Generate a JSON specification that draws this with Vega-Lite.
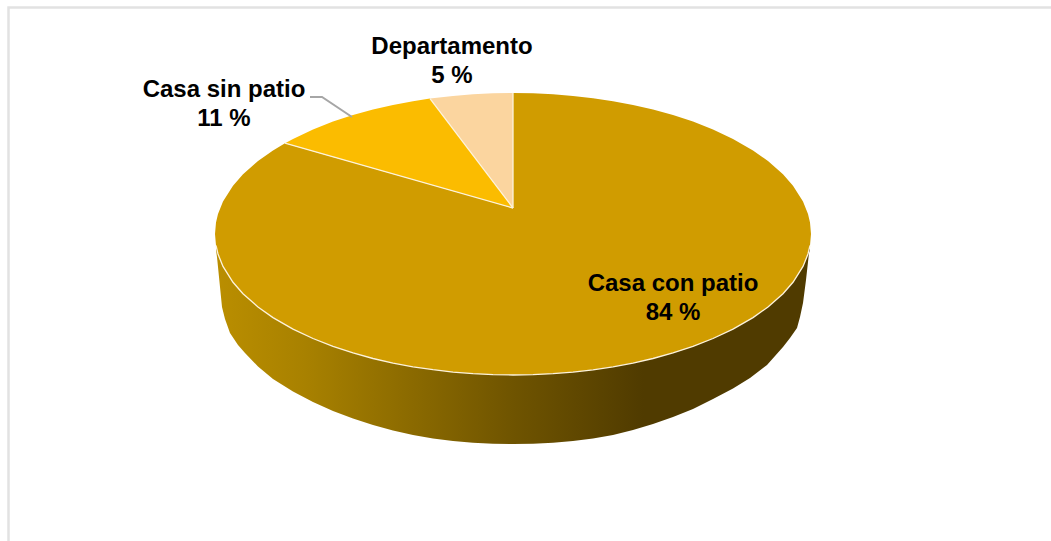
{
"$schema":"https://vega.github.io/schema/vega-lite/v6.json",
"width":1051,"height":541,"padding":0,
"autosize":{"type":"none"},
"background":"white",
"config":{"view":{"stroke":null}},
"datasets":{
"frame":[{"i":1,"x":8.5,"y":541},{"i":2,"x":8.5,"y":7.5},{"i":3,"x":1051,"y":7.5}],
"wall":[
{"x":216,"y":250,"y2":234},{"x":217,"y":257,"y2":234},{"x":220,"y":287,"y2":234},{"x":222,"y":307,"y2":234},{"x":225,"y":319,"y2":234},{"x":230,"y":333,"y2":234},{"x":238,"y":345,"y2":234},{"x":245,"y":353,"y2":234},{"x":258,"y":366.5,"y2":234},{"x":273,"y":379,"y2":234},{"x":293,"y":391.5,"y2":234},{"x":313,"y":402,"y2":234},{"x":333,"y":411,"y2":234},{"x":353,"y":418.5,"y2":234},{"x":373,"y":425,"y2":234},{"x":393,"y":430.5,"y2":234},{"x":413,"y":435,"y2":234},{"x":433,"y":438.5,"y2":234},{"x":453,"y":441,"y2":234},{"x":473,"y":442.7,"y2":234},{"x":493,"y":443.7,"y2":234},{"x":513,"y":444,"y2":234},{"x":533,"y":443.7,"y2":234},{"x":553,"y":442.7,"y2":234},{"x":573,"y":441,"y2":234},{"x":593,"y":438.6,"y2":234},{"x":613,"y":435,"y2":234},{"x":633,"y":430,"y2":234},{"x":653,"y":424,"y2":234},{"x":673,"y":417,"y2":234},{"x":693,"y":409,"y2":234},{"x":713,"y":399,"y2":234},{"x":733,"y":388.5,"y2":234},{"x":750,"y":378,"y2":234},{"x":767,"y":365,"y2":234},{"x":783,"y":347,"y2":234},{"x":790,"y":338,"y2":234},{"x":797,"y":328,"y2":234},{"x":800,"y":317,"y2":234},{"x":803,"y":303,"y2":234},{"x":806,"y":280,"y2":234},{"x":809,"y":253,"y2":234},{"x":810,"y":250,"y2":234}
],
"slices":[
{"slice":"Casa con patio","x":215,"y":234,"y2":234},{"slice":"Casa con patio","x":216,"y":222.5,"y2":245.5},{"slice":"Casa con patio","x":218,"y":214,"y2":254},{"slice":"Casa con patio","x":223,"y":201.6,"y2":266.4},{"slice":"Casa con patio","x":233,"y":185.7,"y2":282.3},{"slice":"Casa con patio","x":243,"y":174.3,"y2":293.7},{"slice":"Casa con patio","x":258,"y":161,"y2":307},{"slice":"Casa con patio","x":273,"y":150.4,"y2":317.6},{"slice":"Casa con patio","x":285,"y":143.2,"y2":324.8},{"slice":"Casa con patio","x":293,"y":145.5,"y2":329.1},{"slice":"Casa con patio","x":313,"y":151.2,"y2":338.5},{"slice":"Casa con patio","x":333,"y":156.9,"y2":346.4},{"slice":"Casa con patio","x":353,"y":162.5,"y2":352.9},{"slice":"Casa con patio","x":373,"y":168.2,"y2":358.5},{"slice":"Casa con patio","x":393,"y":173.9,"y2":363.1},{"slice":"Casa con patio","x":413,"y":179.6,"y2":366.8},{"slice":"Casa con patio","x":433,"y":185.3,"y2":369.7},{"slice":"Casa con patio","x":453,"y":191,"y2":372.1},{"slice":"Casa con patio","x":473,"y":196.6,"y2":373.7},{"slice":"Casa con patio","x":493,"y":202.3,"y2":374.7},{"slice":"Casa con patio","x":513,"y":208,"y2":375},{"slice":"Casa con patio","x":513,"y":93,"y2":375},{"slice":"Casa con patio","x":533,"y":93.3,"y2":374.7},{"slice":"Casa con patio","x":553,"y":94.3,"y2":373.7},{"slice":"Casa con patio","x":573,"y":95.9,"y2":372.1},{"slice":"Casa con patio","x":593,"y":98.2,"y2":369.8},{"slice":"Casa con patio","x":613,"y":101.2,"y2":366.8},{"slice":"Casa con patio","x":633,"y":104.9,"y2":363.1},{"slice":"Casa con patio","x":653,"y":109.5,"y2":358.5},{"slice":"Casa con patio","x":673,"y":115.1,"y2":352.9},{"slice":"Casa con patio","x":693,"y":121.6,"y2":346.4},{"slice":"Casa con patio","x":713,"y":129.5,"y2":338.5},{"slice":"Casa con patio","x":733,"y":138.9,"y2":329.1},{"slice":"Casa con patio","x":753,"y":150.4,"y2":317.6},{"slice":"Casa con patio","x":768,"y":161,"y2":307},{"slice":"Casa con patio","x":783,"y":174.3,"y2":293.7},{"slice":"Casa con patio","x":793,"y":185.7,"y2":282.3},{"slice":"Casa con patio","x":803,"y":201.6,"y2":266.4},{"slice":"Casa con patio","x":808,"y":214,"y2":254},{"slice":"Casa con patio","x":810,"y":222.5,"y2":245.5},{"slice":"Casa con patio","x":811,"y":234,"y2":234},
{"slice":"Casa sin patio","x":285,"y":143.2,"y2":143.2},{"slice":"Casa sin patio","x":293,"y":138.9,"y2":145.5},{"slice":"Casa sin patio","x":313,"y":129.5,"y2":151.2},{"slice":"Casa sin patio","x":333,"y":121.6,"y2":156.9},{"slice":"Casa sin patio","x":353,"y":115.1,"y2":162.5},{"slice":"Casa sin patio","x":373,"y":109.5,"y2":168.2},{"slice":"Casa sin patio","x":393,"y":104.9,"y2":173.9},{"slice":"Casa sin patio","x":413,"y":101.2,"y2":179.6},{"slice":"Casa sin patio","x":430,"y":98.6,"y2":184.4},{"slice":"Casa sin patio","x":513,"y":208,"y2":208},
{"slice":"Departamento","x":430,"y":98.6,"y2":98.6},{"slice":"Departamento","x":453,"y":95.9,"y2":128.9},{"slice":"Departamento","x":473,"y":94.3,"y2":155.3},{"slice":"Departamento","x":493,"y":93.3,"y2":181.6},{"slice":"Departamento","x":513,"y":93,"y2":208}
],
"edges":[
{"edge":"rim","i":1,"x":216,"y":245.5},{"edge":"rim","i":2,"x":218,"y":254},{"edge":"rim","i":3,"x":223,"y":266.4},{"edge":"rim","i":4,"x":233,"y":282.3},{"edge":"rim","i":5,"x":243,"y":293.7},{"edge":"rim","i":6,"x":258,"y":307},{"edge":"rim","i":7,"x":273,"y":317.6},{"edge":"rim","i":8,"x":293,"y":329.1},{"edge":"rim","i":9,"x":313,"y":338.5},{"edge":"rim","i":10,"x":333,"y":346.4},{"edge":"rim","i":11,"x":353,"y":352.9},{"edge":"rim","i":12,"x":373,"y":358.5},{"edge":"rim","i":13,"x":393,"y":363.1},{"edge":"rim","i":14,"x":413,"y":366.8},{"edge":"rim","i":15,"x":433,"y":369.7},{"edge":"rim","i":16,"x":453,"y":372.1},{"edge":"rim","i":17,"x":473,"y":373.7},{"edge":"rim","i":18,"x":493,"y":374.7},{"edge":"rim","i":19,"x":513,"y":375},{"edge":"rim","i":20,"x":533,"y":374.7},{"edge":"rim","i":21,"x":553,"y":373.7},{"edge":"rim","i":22,"x":573,"y":372.1},{"edge":"rim","i":23,"x":593,"y":369.8},{"edge":"rim","i":24,"x":613,"y":366.8},{"edge":"rim","i":25,"x":633,"y":363.1},{"edge":"rim","i":26,"x":653,"y":358.5},{"edge":"rim","i":27,"x":673,"y":352.9},{"edge":"rim","i":28,"x":693,"y":346.4},{"edge":"rim","i":29,"x":713,"y":338.5},{"edge":"rim","i":30,"x":733,"y":329.1},{"edge":"rim","i":31,"x":753,"y":317.6},{"edge":"rim","i":32,"x":768,"y":307},{"edge":"rim","i":33,"x":783,"y":293.7},{"edge":"rim","i":34,"x":793,"y":282.3},{"edge":"rim","i":35,"x":803,"y":266.4},{"edge":"rim","i":36,"x":808,"y":254},{"edge":"rim","i":37,"x":810,"y":245.5},
{"edge":"a","i":1,"x":285,"y":143.2},{"edge":"a","i":2,"x":513,"y":208},
{"edge":"b","i":1,"x":430,"y":98.6},{"edge":"b","i":2,"x":513,"y":208},
{"edge":"c","i":1,"x":513,"y":93},{"edge":"c","i":2,"x":513,"y":208}
],
"leader":[{"i":1,"x":310,"y":97},{"i":2,"x":322,"y":97},{"i":3,"x":352,"y":117}],
"labels":[
{"slice":"Casa con patio","share":84,"text":"Casa con patio\n84 %","x":673,"y":284},
{"slice":"Casa sin patio","share":11,"text":"Casa sin patio\n11 %","x":224,"y":90},
{"slice":"Departamento","share":5,"text":"Departamento\n5 %","x":452,"y":47}
]
},
"encoding":{
"x":{"field":"x","type":"quantitative","scale":{"domain":[0,1051],"nice":false,"zero":false},"axis":null},
"y":{"field":"y","type":"quantitative","stack":null,"scale":{"domain":[541,0],"nice":false,"zero":false},"axis":null}
},
"layer":[
{"data":{"name":"frame"},"mark":{"type":"line","color":"#E2E2E2","strokeWidth":2.5,"clip":false},"encoding":{"order":{"field":"i"}}},
{"data":{"name":"wall"},"mark":{"type":"area","color":{"gradient":"linear","x1":0,"y1":0,"x2":1,"y2":0,"stops":[{"offset":0,"color":"#BA8E00"},{"offset":0.15,"color":"#A88100"},{"offset":0.5,"color":"#6F5400"},{"offset":0.72,"color":"#503B00"},{"offset":1,"color":"#503B00"}]}},"encoding":{"y2":{"field":"y2"}}},
{"data":{"name":"slices"},"mark":{"type":"area"},"encoding":{"y2":{"field":"y2"},"color":{"field":"slice","type":"nominal","legend":null,"scale":{"domain":["Casa con patio","Casa sin patio","Departamento"],"range":["#D09C00","#FBBC00","#FBD59F"]}}}},
{"data":{"name":"edges"},"mark":{"type":"line","color":"#FDF3DC","strokeWidth":1.3},"encoding":{"detail":{"field":"edge"},"order":{"field":"i"}}},
{"data":{"name":"leader"},"mark":{"type":"line","color":"#A6A6A6","strokeWidth":2},"encoding":{"order":{"field":"i"}}},
{"data":{"name":"labels"},"mark":{"type":"text","font":"Liberation Sans","fontWeight":"bold","fontSize":24,"lineBreak":"\n","lineHeight":29,"align":"center","baseline":"middle","color":"#000000"},"encoding":{"text":{"field":"text"}}}
]
}
